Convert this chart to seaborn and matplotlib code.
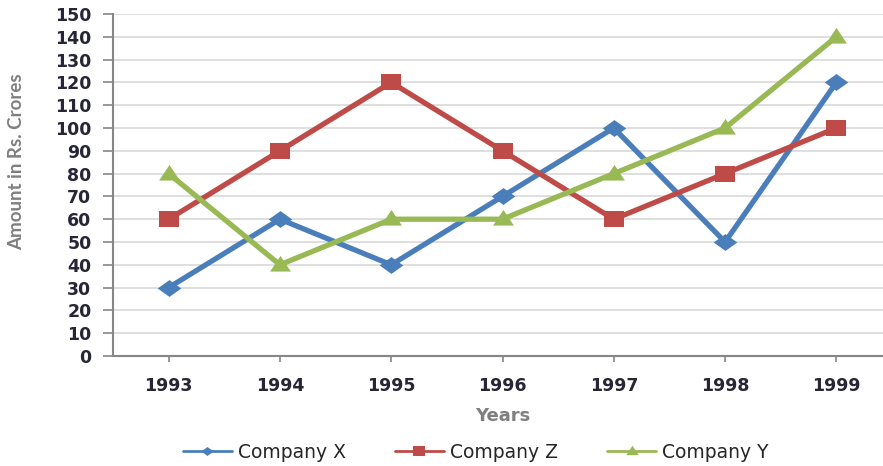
import matplotlib
matplotlib.use("Agg")
import matplotlib.pyplot as plt
from matplotlib.path import Path
from matplotlib.lines import Line2D
import seaborn as sns
import pandas as pd

years = ["1993", "1994", "1995", "1996", "1997", "1998", "1999"]
company_x = [30, 60, 40, 70, 100, 50, 120]
company_z = [60, 90, 120, 90, 60, 80, 100]
company_y = [80, 40, 60, 60, 80, 100, 140]
series_names = ["Company X", "Company Z", "Company Y"]
yticks = list(range(0, 151, 10))

sns.set_theme(style="white")
plt.rcParams['font.family'] = ['DejaVu Sans']

rows = []
for name, vals in zip(series_names, [company_x, company_z, company_y]):
    for i, (yr, v) in enumerate(zip(years, vals)):
        rows.append({"pos": i, "Year": yr, "Value": v, "Series": name})
df = pd.DataFrame(rows)

palette = {"Company X": "#4A7EBB", "Company Z": "#BE4B48", "Company Y": "#98B954"}

# wide (horizontally stretched) marker shapes as in the reference
diamond = Path([(-1.4, 0), (0, 1.0), (1.4, 0), (0, -1.0), (-1.4, 0)], closed=True)
square = Path([(-1.3, -1.0), (1.3, -1.0), (1.3, 1.0), (-1.3, 1.0), (-1.3, -1.0)], closed=True)
triangle = Path([(-1.2, -0.7), (1.2, -0.7), (0, 1.1), (-1.2, -0.7)], closed=True)
markers = {"Company X": diamond, "Company Z": square, "Company Y": triangle}
msizes = {"Company X": 17, "Company Z": 15, "Company Y": 15}

fig = plt.figure(figsize=(8.83, 4.66), dpi=100)
ax = fig.add_axes([113 / 883, 110 / 466, (892 - 113) / 883, 342 / 466])

sns.lineplot(data=df, x="pos", y="Value", hue="Series", style="Series",
             palette=palette, markers=markers, dashes=False, linewidth=3.8,
             markersize=15, markeredgewidth=0, hue_order=series_names,
             style_order=series_names, ax=ax, legend=False)
for line, name in zip(ax.lines, series_names):
    line.set_markersize(msizes[name])

ax.set_xlim(-0.5, 6.5)
ax.set_ylim(0, 150)
ax.set_yticks(yticks)
ax.set_yticklabels([str(t) for t in yticks], fontsize=12.5, fontweight="bold", color="#262636")
ax.set_xticks(range(len(years)))
ax.set_xticklabels(years, fontsize=12.5, fontweight="bold", color="#262636")
ax.yaxis.grid(True, color="#D9D9D9", linewidth=1.2)
ax.xaxis.grid(False)
ax.set_axisbelow(True)
for s in ["top", "right"]:
    ax.spines[s].set_visible(False)
for s in ["left", "bottom"]:
    ax.spines[s].set_color("#868686")
    ax.spines[s].set_linewidth(1.5)
ax.tick_params(axis="y", left=True, length=7, width=1.2, color="#868686", pad=8.5)
ax.tick_params(axis="x", bottom=True, length=4.5, width=1.2, color="#868686", pad=10.5)

ax.set_xlabel("Years", fontsize=13, fontweight="bold", color="#7F7F7F")
ax.xaxis.set_label_coords(0.5, -0.149)
ax.xaxis.label.set_va("top")
ax.set_ylabel("Amount in Rs. Crores", fontsize=13.5, fontweight="bold", color="#7F7F7F",
              family=["Lato", "DejaVu Sans"])
ax.yaxis.set_label_coords(-0.113, 0.567)

handles = [Line2D([0], [0], color=palette[n], marker=markers[n], linewidth=2,
                  markersize=9, markeredgewidth=0) for n in series_names]
fig.legend(handles, series_names, loc="center", bbox_to_anchor=(476 / 883, 14 / 466),
           ncol=3, frameon=False, fontsize=13.5, handlelength=2.6,
           columnspacing=2.6, handletextpad=0.35, borderaxespad=0, borderpad=0)

fig.savefig("out.png", dpi=100)
